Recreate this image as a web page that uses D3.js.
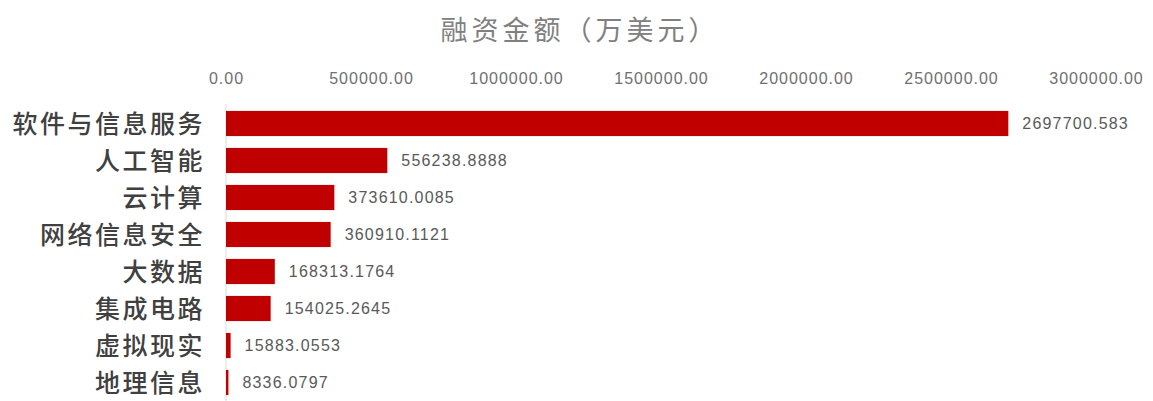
<!DOCTYPE html>
<html><head><meta charset="utf-8">
<script src="https://cdn.jsdelivr.net/npm/d3@7"></script>
<style>body{margin:0;background:#fff}svg{display:block}</style>
</head><body>
<script>
const categories = ["软件与信息服务","人工智能","云计算","网络信息安全","大数据","集成电路","虚拟现实","地理信息"];
const values = [2697700.583,556238.8888,373610.0085,360910.1121,168313.1764,154025.2645,15883.0553,8336.0797];
const valueLabels = ["2697700.583","556238.8888","373610.0085","360910.1121","168313.1764","154025.2645","15883.0553","8336.0797"];
const tickValues = [0,500000,1000000,1500000,2000000,2500000,3000000];
const title = "融资金额（万美元）";

const W=1153,H=401;
const svg=d3.select("body").append("svg").attr("width",W).attr("height",H);
const x=d3.scaleLinear().domain([0,3000000]).range([226,1096]);
const y=d3.scaleBand().domain(categories).range([105,401]).paddingInner(0.32).paddingOuter(0.16);

svg.append("text").attr("x",580).attr("y",40).attr("text-anchor","middle")
  .attr("font-family","Noto Sans CJK SC").attr("font-size",27).attr("letter-spacing",4)
  .attr("fill","#808080").text(title);

const ax=d3.axisTop(x).tickValues(tickValues).tickFormat(d=>d3.format(".2f")(d)).tickSize(0).tickPadding(0);
const g=svg.append("g").attr("transform","translate(0,84)").call(ax);
g.select(".domain").remove();
g.selectAll("text").attr("font-family","Liberation Sans, Arial").attr("font-size",16).attr("letter-spacing",1)
  .attr("fill","#6f6f6f");

svg.append("line").attr("x1",x(0)).attr("x2",x(0)).attr("y1",104).attr("y2",401).attr("stroke","#d9d9d9");

svg.selectAll("rect.bar").data(values).join("rect").attr("class","bar")
  .attr("x",x(0)).attr("y",(d,i)=>y(categories[i])).attr("width",d=>x(d)-x(0)).attr("height",y.bandwidth())
  .attr("fill","#c00000");

svg.selectAll("text.val").data(values).join("text").attr("class","val")
  .attr("x",d=>x(d)+14).attr("y",(d,i)=>y(categories[i])+y.bandwidth()/2).attr("dy","0.35em")
  .attr("font-family","Liberation Sans, Arial").attr("font-size",16).attr("letter-spacing",1.2)
  .attr("fill","#595959")
  .text((d,i)=>valueLabels[i]);

svg.selectAll("text.cat").data(categories).join("text").attr("class","cat")
  .attr("x",205).attr("y",d=>y(d)+y.bandwidth()/2).attr("dy","0.36em").attr("text-anchor","end")
  .attr("font-family","Noto Sans CJK SC").attr("font-size",25).attr("font-weight",500).attr("letter-spacing",2.5)
  .attr("fill","#404040").text(d=>d);
</script>
</body></html>
